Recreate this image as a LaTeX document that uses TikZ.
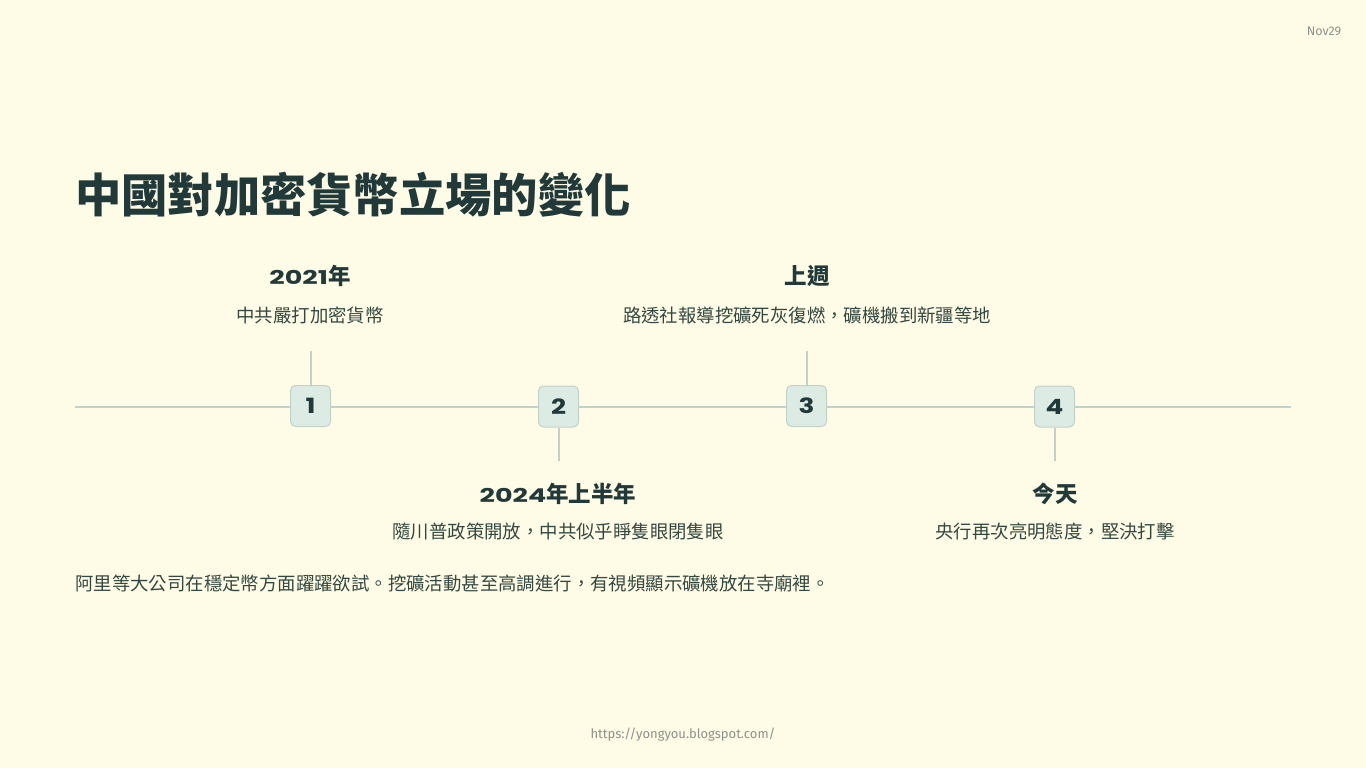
\documentclass[tikz,border=0pt]{standalone}
\usepackage{fontspec}
\newfontfamily\cjk{Noto Sans CJK TC}
\newfontfamily\numf{Poppins}
\newfontfamily\urlf{Fira Sans}
\definecolor{bg}{HTML}{FEFCE6}
\definecolor{ink}{HTML}{22393A}
\definecolor{body}{HTML}{34483F}
\definecolor{lin}{HTML}{C3D2C8}
\definecolor{boxf}{HTML}{DCEBE4}
\definecolor{greyt}{HTML}{8E918A}
\newcommand\wnum[1]{\scalebox{1.25}[1]{\numf #1}}
\newcommand\hnum[1]{\scalebox{1.42}[1]{\numf\fontsize{19}{20}\selectfont #1}}
\begin{document}
\begin{tikzpicture}[x=1pt,y=-1pt,
  tl/.style={draw=lin,line width=2pt},
  numbox/.style={draw=lin,fill=boxf,line width=1pt,rounded corners=5pt,minimum width=40pt,minimum height=41pt,inner sep=0pt,font=\numf\bfseries\fontsize{21}{21}\selectfont,text=ink},
  head/.style={font=\cjk\bfseries\fontsize{22.5}{24}\selectfont,text=ink,inner sep=0pt},
  desc/.style={font=\cjk\fontsize{18.4}{20}\selectfont,text=body,inner sep=0pt}]
\fill[bg] (0,0) rectangle (1366,768);
\useasboundingbox (0,0) rectangle (1366,768);
% title
\node[anchor=west,inner sep=0pt,font=\cjk\bfseries\fontsize{46.3}{50}\selectfont,text=ink] (title) at (75,195) {中國對加密貨幣立場的變化};
\node[inner sep=0pt,font=\urlf\fontsize{12.5}{14}\selectfont,text=greyt] (date) at (1324,31) {Nov29};
% timeline
\coordinate (L) at (75,407);
\coordinate (R) at (1291,407);
\draw[tl] (L) -- (R);
\node[numbox] (b1) at (310.5,406) {\wnum{1}};
\node[numbox] (b2) at (558.5,406.5) {\wnum{2}};
\node[numbox] (b3) at (806.5,406) {\wnum{3}};
\node[numbox] (b4) at (1054.5,406.5) {\wnum{4}};
\coordinate (t1) at (310.5,351);
\coordinate (t2) at (558.5,461);
\coordinate (t3) at (806.5,351);
\coordinate (t4) at (1054.5,461);
\draw[tl] (b1.north) -- (t1);
\draw[tl] (b2.south) -- (t2);
\draw[tl] (b3.north) -- (t3);
\draw[tl] (b4.south) -- (t4);
% labels
\node[head] (h1) at (310,276) {\hnum{2021}年};
\node[desc] (d1) at (310,315) {中共嚴打加密貨幣};
\node[head] (h3) at (807,276) {上週};
\node[desc] (d3) at (807,315) {路透社報導挖礦死灰復燃，礦機搬到新疆等地};
\node[head] (h2) at (558,494) {\hnum{2024}年上半年};
\node[desc] (d2) at (558,532) {隨川普政策開放，中共似乎睜隻眼閉隻眼};
\node[head] (h4) at (1055,494) {今天};
\node[desc] (d4) at (1055,532) {央行再次亮明態度，堅決打擊};
\node[desc,anchor=west] (para) at (75,583) {阿里等大公司在穩定幣方面躍躍欲試。挖礦活動甚至高調進行，有視頻顯示礦機放在寺廟裡。};
\node[inner sep=0pt,font=\urlf\fontsize{13}{15}\selectfont,text=greyt] (url) at (683,735) {https://yongyou.blogspot.com/};
\end{tikzpicture}
\end{document}
